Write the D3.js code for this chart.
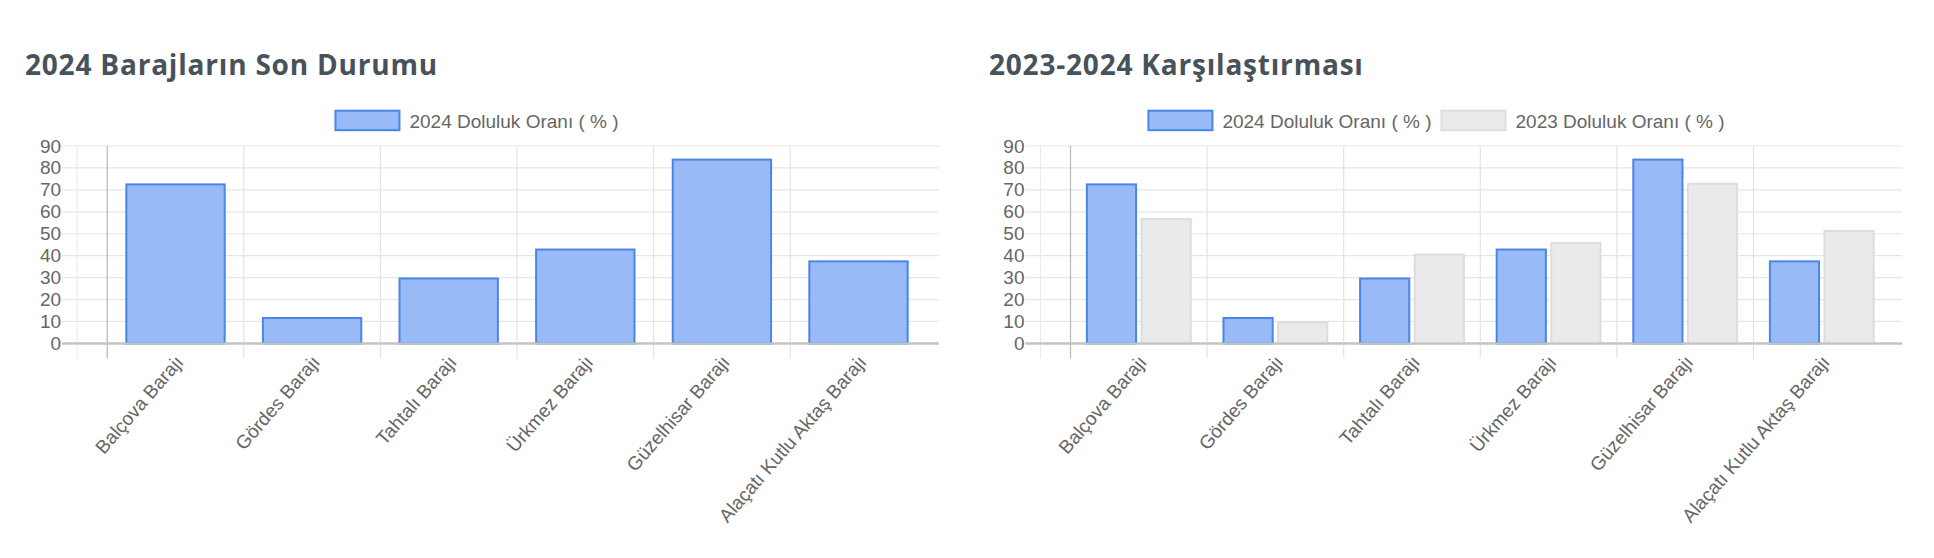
<!DOCTYPE html>
<html>
<head>
<meta charset="utf-8">
<script src="https://cdn.jsdelivr.net/npm/d3@7/dist/d3.min.js"></script>
<style>
  html, body { margin: 0; padding: 0; background: #ffffff; }
  svg { display: block; }
</style>
</head>
<body>
<svg id="chart" width="1934" height="558"></svg>
<script>
// ---------- data ----------
const categories = ["Balçova Barajı", "Gördes Barajı", "Tahtalı Barajı", "Ürkmez Barajı", "Güzelhisar Barajı", "Alaçatı Kutlu Aktaş Barajı"];
const values2024 = [72.5, 11.6, 29.6, 42.8, 83.8, 37.4];
const values2023 = [56.7, 9.6, 40.5, 45.8, 72.8, 51.3];
const yTicks = [0, 10, 20, 30, 40, 50, 60, 70, 80, 90];
const titles = ["2024 Barajların Son Durumu", "2023-2024 Karşılaştırması"];
const seriesNames = ["2024 Doluluk Oranı ( % )", "2023 Doluluk Oranı ( % )"];

// ---------- styles ----------
const blueFill = "#98baf7", blueStroke = "#4a86e8";
const greyFill = "#ebe9eb", greyStroke = "#dedcde";
const tickColor = "#666666";
const tickFont = "Liberation Sans, Arial, Helvetica, sans-serif";

const svg = d3.select("#chart");

function drawChart(cfg) {
  const g = svg.append("g");
  const x = d3.scaleBand().domain(categories).range([cfg.left, cfg.right]).paddingInner(0).paddingOuter(0);
  const y = d3.scaleLinear().domain([0, 90]).range([343.4, 146]);

  // title
  g.append("text")
    .attr("x", cfg.titleX).attr("y", 75)
    .attr("font-family", "Open Sans, sans-serif").attr("font-weight", 700)
    .attr("font-size", 28).attr("letter-spacing", 0.8).attr("fill", "#47525b")
    .text(cfg.title);

  // horizontal grid lines
  g.selectAll(".hg").data(yTicks).enter().append("line")
    .attr("x1", cfg.left - 45).attr("x2", cfg.right + 12)
    .attr("y1", d => y(d)).attr("y2", d => y(d))
    .attr("stroke", d => d === 0 ? "#c4c4c4" : "#e6e6e6")
    .attr("stroke-width", d => d === 0 ? 2 : 1.2);

  // faint extra vertical line left of axis
  g.append("line")
    .attr("x1", cfg.left - 30).attr("x2", cfg.left - 30)
    .attr("y1", y(90)).attr("y2", y(0) + 15)
    .attr("stroke", "#ebebeb").attr("stroke-width", 1.2);

  // vertical grid lines at category boundaries
  g.selectAll(".vg").data(categories).enter().append("line")
    .attr("x1", d => x(d)).attr("x2", d => x(d))
    .attr("y1", y(90)).attr("y2", y(0) + 15)
    .attr("stroke", (d, i) => i === 0 ? "#b8b8b8" : "#e4e2e6")
    .attr("stroke-width", 1.2);

  // y tick labels
  g.selectAll(".yl").data(yTicks).enter().append("text")
    .attr("x", cfg.left - 46).attr("y", d => y(d))
    .attr("text-anchor", "end").attr("dominant-baseline", "central")
    .attr("font-family", tickFont).attr("font-size", 19).attr("fill", tickColor)
    .text(d => d);

  // bars
  const series = cfg.series;
  const catW = x.bandwidth() * 0.8;
  const barW = catW / series.length * 0.9;
  series.forEach((s, si) => {
    g.selectAll(".bar" + si).data(s.values).enter().append("rect")
      .attr("x", (d, i) => x(categories[i]) + x.bandwidth() / 2 - catW / 2 + (catW / series.length) * si + (catW / series.length - barW) / 2)
      .attr("y", d => y(d))
      .attr("width", barW)
      .attr("height", d => y(0) - y(d))
      .attr("fill", s.fill).attr("stroke", s.stroke).attr("stroke-width", 2);
  });

  // re-draw zero line above bars
  g.append("line")
    .attr("x1", cfg.left - 45).attr("x2", cfg.right + 12)
    .attr("y1", y(0)).attr("y2", y(0))
    .attr("stroke", "#c4c4c4").attr("stroke-width", 2);

  // x tick labels (rotated)
  g.selectAll(".xl").data(categories).enter().append("text")
    .attr("transform", d => `translate(${x(d) + x.bandwidth() / 2 + 4},${y(0) + 15}) rotate(-49)`)
    .attr("text-anchor", "end").attr("dominant-baseline", "central")
    .attr("font-family", tickFont).attr("font-size", 19).attr("fill", tickColor)
    .text(d => d);

  // legend
  const lg = g.append("g");
  let cx = 0;
  series.forEach((s, si) => {
    const item = lg.append("g").attr("transform", `translate(${cx},0)`);
    item.append("rect").attr("x", 0).attr("y", 110.7).attr("width", 64).attr("height", 19.5)
      .attr("fill", s.fill).attr("stroke", s.stroke).attr("stroke-width", 2);
    const t = item.append("text").attr("x", 74).attr("y", 121)
      .attr("dominant-baseline", "central")
      .attr("font-family", tickFont).attr("font-size", 19).attr("fill", tickColor)
      .text(s.name);
    cx += 74 + t.node().getComputedTextLength() + 10;
  });
  const totalW = cx - 10;
  lg.attr("transform", `translate(${cfg.legendCenter - totalW / 2},0)`);
}

drawChart({
  left: 107.2, right: 926.8, titleX: 25, title: titles[0], legendCenter: 477,
  series: [{ name: seriesNames[0], values: values2024, fill: blueFill, stroke: blueStroke }]
});
drawChart({
  left: 1070.5, right: 1890.1, titleX: 989, title: titles[1], legendCenter: 1436.5,
  series: [
    { name: seriesNames[0], values: values2024, fill: blueFill, stroke: blueStroke },
    { name: seriesNames[1], values: values2023, fill: greyFill, stroke: greyStroke }
  ]
});
</script>
</body>
</html>
